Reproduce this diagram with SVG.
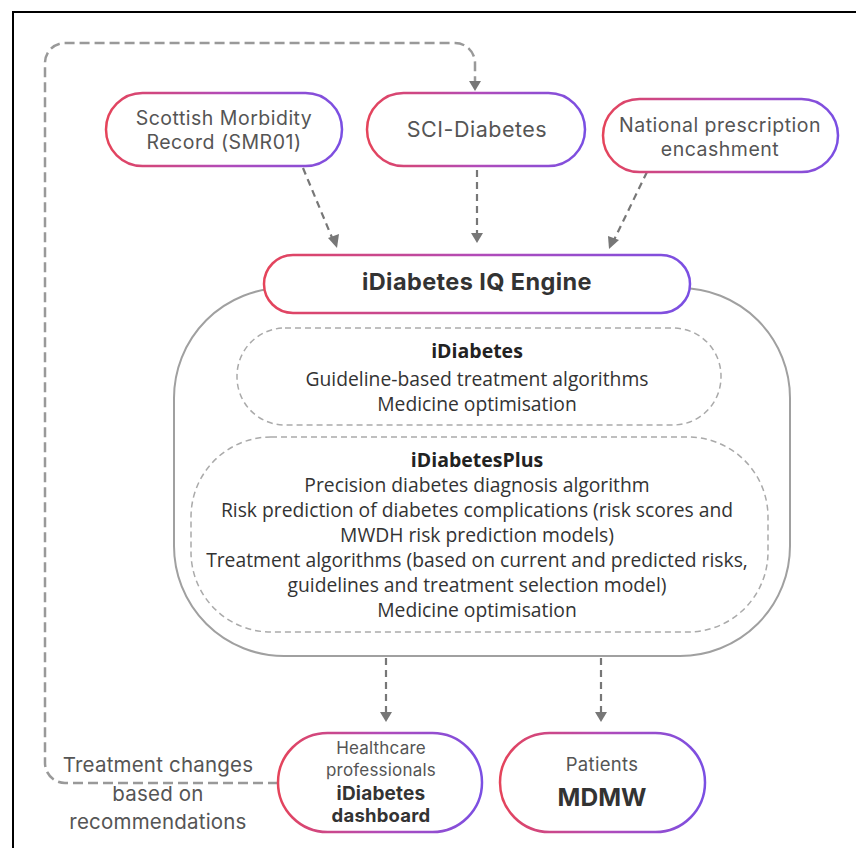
<svg xmlns="http://www.w3.org/2000/svg" width="856" height="848" viewBox="0 0 856 848">
<defs>
<linearGradient id="g" x1="0" y1="0" x2="1" y2="0">
<stop offset="0" stop-color="#e5445a"/>
<stop offset="0.5" stop-color="#b24bb8"/>
<stop offset="1" stop-color="#7a4fe3"/>
</linearGradient>
<style>
.pill{fill:#fff;stroke:url(#g);stroke-width:2.5}
.t{font-family:Inter,"Liberation Sans",sans-serif;fill:#555;text-anchor:middle;letter-spacing:0.5px}
.b{font-family:Inter,"Liberation Sans",sans-serif;fill:#333;font-weight:bold;text-anchor:middle;letter-spacing:0.4px}
.c{font-family:"Open Sans","Liberation Sans",sans-serif;fill:#333;text-anchor:middle;font-size:19.3px}
.cb{font-family:"Open Sans","Liberation Sans",sans-serif;fill:#222;font-weight:bold;text-anchor:middle;font-size:19.5px}
.dash{fill:none;stroke:#999;stroke-width:2.5;stroke-dasharray:10 5}
.arr{fill:none;stroke:#777;stroke-width:2.2;stroke-dasharray:7 5}
.head{fill:#777}
.box{fill:none;stroke:#aaa;stroke-width:1.5;stroke-dasharray:6 4}
</style>
</defs>
<rect width="856" height="848" fill="#fff"/>
<path d="M13,848 V12 H856" fill="none" stroke="#000" stroke-width="2"/>

<g id="container">
<rect x="174" y="288" width="616" height="368" rx="110" ry="110" fill="#fff" stroke="#a0a0a0" stroke-width="2"/>
</g>

<g id="connectors">
<path class="dash" d="M278,783 H65 A20,20 0 0 1 45,763 V63 A20,20 0 0 1 65,43 H455 A20,20 0 0 1 475,63 V82"/>
<path class="head" d="M469,81 L481,81 L475,91 z"/>
<line class="arr" x1="303" y1="168" x2="333" y2="240"/>
<path class="head" d="M328,238 L339,234 L337,248 z"/>
<line class="arr" x1="477" y1="170" x2="477" y2="234"/>
<path class="head" d="M471,233 L483,233 L477,243 z"/>
<line class="arr" x1="647" y1="172" x2="614" y2="240"/>
<path class="head" d="M608,236 L619,240 L609,249 z"/>
<line class="arr" x1="386" y1="658" x2="386" y2="713"/>
<path class="head" d="M380,712 L392,712 L386,722 z"/>
<line class="arr" x1="601" y1="658" x2="601" y2="713"/>
<path class="head" d="M595,712 L607,712 L601,722 z"/>
</g>

<g id="smr01">
<rect class="pill" x="106" y="93" width="236" height="73" rx="36.5"/>
<text class="t" x="224" y="125" font-size="19.5">Scottish Morbidity</text>
<text class="t" x="224" y="149" font-size="19.5">Record (SMR01)</text>
</g>
<g id="sci-diabetes">
<rect class="pill" x="367" y="93" width="218" height="73" rx="36.5"/>
<text class="t" x="477" y="137" font-size="21.5">SCI-Diabetes</text>
</g>
<g id="national">
<rect class="pill" x="603" y="99" width="235" height="73" rx="36.5"/>
<text class="t" x="720" y="132" font-size="19.5">National prescription</text>
<text class="t" x="720" y="156" font-size="19.5">encashment</text>
</g>
<g id="engine">
<rect class="pill" x="264" y="255" width="426" height="58" rx="29"/>
<text class="b" x="477" y="290" font-size="23.5">iDiabetes IQ Engine</text>
</g>
<g id="idiabetes">
<rect class="box" x="237" y="328" width="484" height="97" rx="48"/>
<text class="cb" x="477" y="358">iDiabetes</text>
<text class="c" x="477" y="386">Guideline-based treatment algorithms</text>
<text class="c" x="477" y="411">Medicine optimisation</text>
</g>
<g id="idiabetesplus">
<rect class="box" x="191" y="437" width="577" height="195" rx="80"/>
<text class="cb" x="477" y="467">iDiabetesPlus</text>
<text class="c" x="477" y="492">Precision diabetes diagnosis algorithm</text>
<text class="c" x="477" y="517">Risk prediction of diabetes complications (risk scores and</text>
<text class="c" x="477" y="542">MWDH risk prediction models)</text>
<text class="c" x="477" y="567">Treatment algorithms (based on current and predicted risks,</text>
<text class="c" x="477" y="592">guidelines and treatment selection model)</text>
<text class="c" x="477" y="617">Medicine optimisation</text>
</g>
<g id="healthcare">
<rect class="pill" x="278" y="733" width="204" height="99" rx="49.5"/>
<text class="t" x="381" y="754" font-size="17" style="letter-spacing:0.2px">Healthcare</text>
<text class="t" x="381" y="776" font-size="17" style="letter-spacing:0.2px">professionals</text>
<text class="b" x="381" y="800" font-size="19" style="letter-spacing:0.2px">iDiabetes</text>
<text class="b" x="381" y="822" font-size="18.5" style="letter-spacing:0.2px">dashboard</text>
</g>
<g id="patients">
<rect class="pill" x="500" y="733" width="205" height="99" rx="49.5"/>
<text class="t" x="602" y="771" font-size="18.5" style="letter-spacing:0.3px">Patients</text>
<text class="b" x="602" y="806" font-size="24.5" style="letter-spacing:0px">MDMW</text>
</g>
<g id="feedback-label">
<text class="t" x="158" y="772" font-size="20.5" style="letter-spacing:0.2px">Treatment changes</text>
<text class="t" x="158" y="801" font-size="20.5" style="letter-spacing:0.2px">based on</text>
<text class="t" x="158" y="829" font-size="20.5" style="letter-spacing:0.2px">recommendations</text>
</g>
</svg>
